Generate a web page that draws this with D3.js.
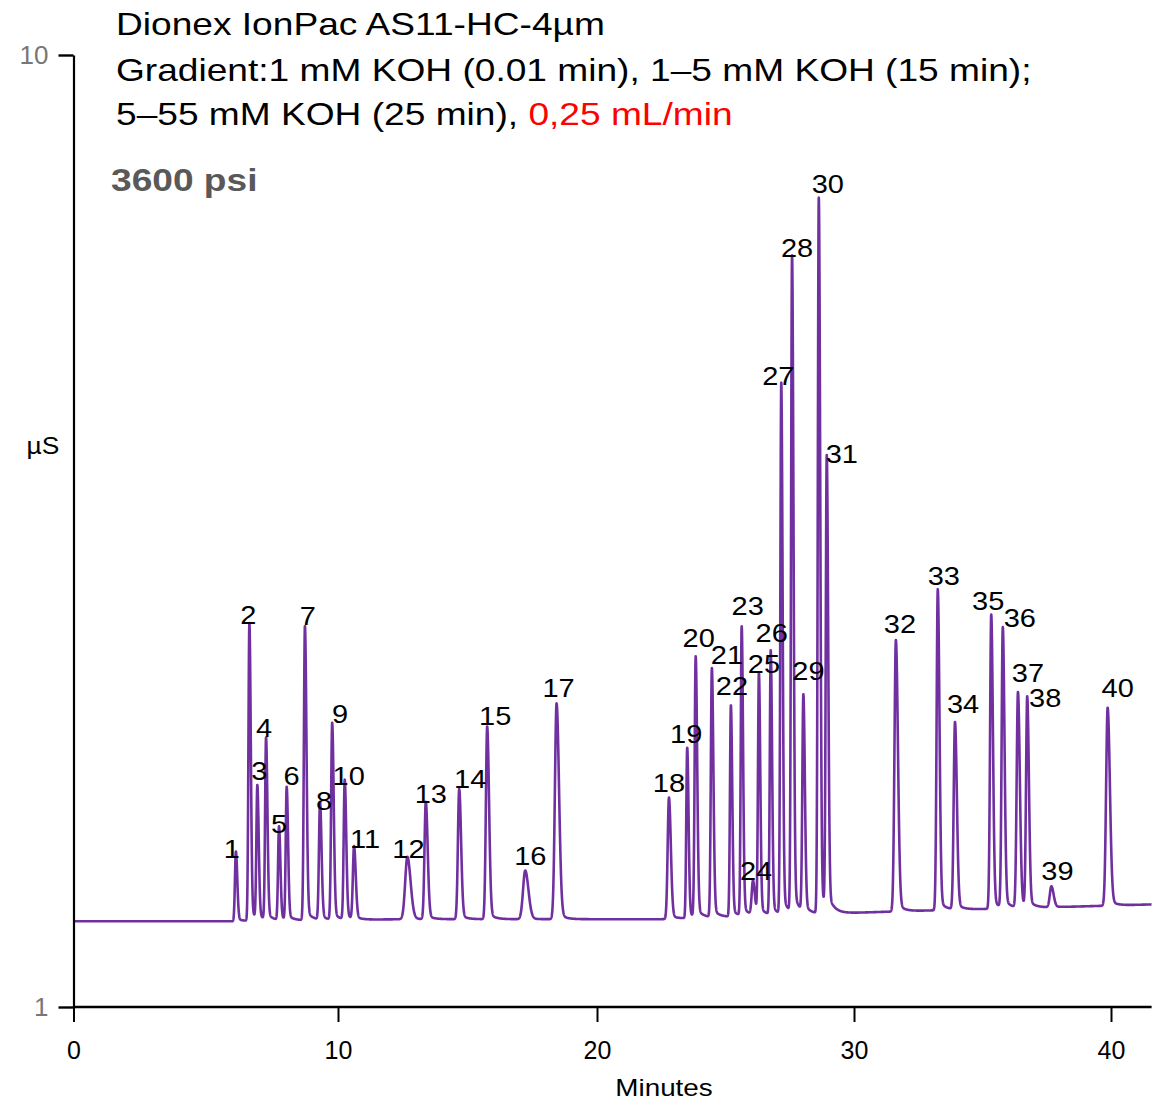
<!DOCTYPE html>
<html>
<head>
<meta charset="utf-8">
<script src="https://cdn.jsdelivr.net/npm/d3@7"></script>
<style>
  body { margin: 0; background: #ffffff; }
  svg { display: block; font-family: "Liberation Sans", Arial, sans-serif; }
</style>
</head>
<body>
<div id="chart"></div>
<script>
// Peak table: retention time (min), apex signal (µS), width sigma (min)
const peakIds    = d3.range(1, 41);
const peakTimes  = [6.14, 6.65, 6.95, 7.28, 7.77, 8.06, 8.75, 9.32, 9.78, 10.26,
                    10.62, 12.68, 13.39, 14.68, 15.76, 17.23, 18.44, 22.80, 23.51, 23.84,
                    24.47, 25.21, 25.63, 26.07, 26.30, 26.76, 27.17, 27.59, 28.03, 28.63,
                    28.94, 31.63, 33.26, 33.93, 35.34, 35.79, 36.38, 36.74, 37.68, 39.87];
const peakApex   = [2.47, 4.63, 3.07, 3.53, 2.70, 3.07, 4.60, 2.93, 3.68, 3.14,
                    2.51, 2.42, 2.94, 3.06, 3.65, 2.29, 3.87, 2.98, 3.45, 4.30,
                    4.20, 3.85, 4.59, 2.18, 4.15, 4.36, 6.89, 8.08, 3.92, 8.65,
                    6.15, 4.47, 4.95, 3.69, 4.71, 4.58, 3.97, 3.92, 2.14, 3.83];
const peakSigma  = [0.036, 0.036, 0.036, 0.036, 0.036, 0.036, 0.04, 0.04, 0.04, 0.04,
                    0.045, 0.085, 0.05, 0.05, 0.05, 0.085, 0.065, 0.05, 0.036, 0.04,
                    0.04, 0.036, 0.036, 0.05, 0.036, 0.036, 0.036, 0.038, 0.04, 0.038,
                    0.038, 0.055, 0.045, 0.05, 0.045, 0.045, 0.05, 0.045, 0.06, 0.06];

// Baseline drift read at a few points (min, µS)
const baseTimes  = [0, 6, 12.5, 22.5, 31.2, 34, 38, 41.6];
const baseValues = [1.81, 1.81, 1.83, 1.83, 1.90, 1.92, 1.945, 1.97];

// Minute ticks and where the reference axis puts them (its spacing is a little uneven)
const xTicks   = [0, 10, 20, 30, 40];
const xTickPix = [73.5, 338, 597, 854, 1111];
const yTicks   = [1, 10];

// Label nudges in px from each apex (layout only)
const labelDx = [-4, -1, 2, -2, 0, 5, 3, 4, 8, 4, 11, 1, 5, 11, 8, 5, 2, 0, -1, 3,
                 15, 1, 6, 3, 5, 1, -3, 5, 5, 9, 15, 4, 6, 8, -3, 17, 10, 18, 6, 10];
const labelDy = [6, 1, -8, -2, 6, -3, -1, 7, -1, 4, 1, 1, 1, -1, -2, -6, -6, -6, -5, -11,
                 -5, -11, -12, -2, -1, -10, 1, -1, -18, -5, 1, -7, -4, -9, -5, -1, -11, 9, -6, -11];

const width = 1152, height = 1103;
const traceColor = '#7030a0';
const stretch = 1.16;   // the reference lettering is drawn wider than Arial
const tMax = 41.58;

const x = d3.scaleLinear().domain(xTicks).range(xTickPix);
const y = d3.scaleLinear().domain([1, 10]).range([1007, 55]);
const baseline = d3.scaleLinear().domain(baseTimes).range(baseValues);

// tailing peak shape: gaussian front, wider back plus a small exponential tail
function peakShape(dt, s) {
  if (dt < 0) return Math.exp(-0.5 * (dt / s) ** 2);
  return 0.96 * Math.exp(-0.5 * (dt / (1.45 * s)) ** 2) + 0.04 * Math.exp(-dt / 0.22);
}

const peaks = peakIds.map((id, i) => ({
  id,
  t: peakTimes[i],
  apex: peakApex[i],
  h: peakApex[i] - baseline(peakTimes[i]),
  s: peakSigma[i]
}));

function signal(t) {
  let v = baseline(t);
  peaks.forEach(p => {
    const dt = t - p.t;
    if (dt > -0.6 && dt < 3) v += p.h * peakShape(dt, p.s);
  });
  return v;
}

const trace = d3.range(0, tMax, 0.004).map(t => [t, signal(t)]);

const svg = d3.select('#chart')
  .append('svg')
  .attr('width', width)
  .attr('height', height)
  .attr('viewBox', `0 0 ${width} ${height}`);

// Title block
const title = svg.append('g')
  .attr('transform', `translate(116, 0) scale(${stretch}, 1)`)
  .attr('font-size', 32).attr('fill', '#000');
title.append('text').attr('x', 0).attr('y', 35).text('Dionex IonPac AS11-HC-4µm');
title.append('text').attr('x', 0).attr('y', 81)
  .text('Gradient:1 mM KOH (0.01 min), 1–5 mM KOH (15 min);');
const line3 = title.append('text').attr('x', 0).attr('y', 125);
line3.append('tspan').text('5–55 mM KOH (25 min), ');
line3.append('tspan').attr('fill', '#ff0000').text('0,25 mL/min');

svg.append('text')
  .attr('transform', `translate(111, 191) scale(1.16, 1)`)
  .attr('font-size', 32).attr('font-weight', 'bold')
  .attr('fill', '#595959')
  .text('3600 psi');

// Trace
svg.append('path')
  .datum(trace)
  .attr('fill', 'none')
  .attr('stroke', traceColor)
  .attr('stroke-width', 2.6)
  .attr('stroke-linejoin', 'round')
  .attr('d', d3.line().x(d => x(d[0])).y(d => y(d[1])));

// Peak labels
svg.append('g')
  .attr('font-size', 25)
  .attr('text-anchor', 'middle')
  .attr('fill', '#000')
  .selectAll('text')
  .data(peaks)
  .join('text')
  .attr('transform', (d, i) =>
    `translate(${x(d.t) + labelDx[i]}, ${y(d.apex) + labelDy[i]}) scale(${stretch}, 1)`)
  .text(d => d.id);

// Axes
const xAxis = svg.append('g')
  .attr('transform', `translate(0, ${y(1)})`)
  .call(d3.axisBottom(x).tickValues(xTicks).tickSize(15).tickSizeOuter(0).tickPadding(19));
xAxis.select('.domain')
  .attr('d', `M${x(0)},0H${x(tMax)}`)
  .attr('stroke-width', 2.6).attr('stroke', '#000');
xAxis.selectAll('.tick line').attr('stroke-width', 2);
xAxis.selectAll('.tick text')
  .attr('font-size', 25).attr('fill', '#000')
  .attr('font-family', '"Liberation Sans", Arial, sans-serif');

const yAxis = svg.append('g')
  .attr('transform', `translate(${x(0)}, 0)`)
  .call(d3.axisLeft(y).tickValues(yTicks).tickSize(15).tickSizeOuter(0).tickPadding(10));
yAxis.select('.domain').attr('stroke-width', 2.2).attr('stroke', '#000');
yAxis.selectAll('.tick line').attr('stroke-width', 2.4);
yAxis.selectAll('.tick text')
  .attr('font-size', 26).attr('fill', '#777777')
  .attr('font-family', '"Liberation Sans", Arial, sans-serif');

svg.append('text')
  .attr('transform', 'translate(43, 454) scale(1.1, 1)')
  .attr('text-anchor', 'middle')
  .attr('font-size', 24)
  .text('µS');

svg.append('text')
  .attr('transform', `translate(664, 1096) scale(${stretch}, 1)`)
  .attr('text-anchor', 'middle')
  .attr('font-size', 24)
  .text('Minutes');
</script>
</body>
</html>
